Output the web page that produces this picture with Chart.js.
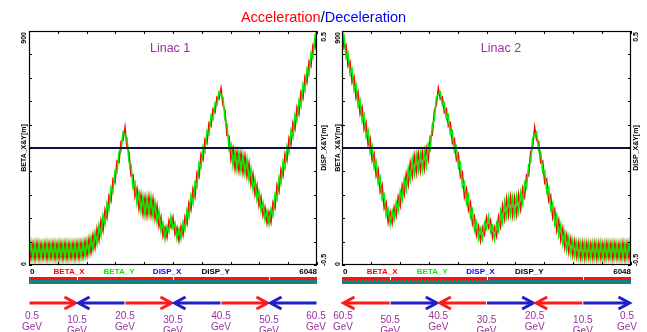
<!DOCTYPE html>
<html><head><meta charset="utf-8">
<script src="https://cdn.jsdelivr.net/npm/chart.js@4/dist/chart.umd.min.js"></script>
<style>
html,body{margin:0;padding:0;background:#fff;width:647px;height:332px;overflow:hidden;position:relative;}
#title{position:absolute;left:0;top:8px;width:647px;text-align:center;font:14.5px "Liberation Sans",Arial,sans-serif;line-height:18px;z-index:2;}
#c1{position:absolute;left:0;top:0;}
#c2{position:absolute;left:330px;top:0;}
</style></head><body>
<div id="title"><span style="color:#ff0000">Acceleration</span><span style="color:#000">/</span><span style="color:#0000ff">Deceleration</span></div>
<canvas id="c1" width="330" height="332" style="width:330px;height:332px"></canvas>
<canvas id="c2" width="317" height="332" style="width:317px;height:332px"></canvas>
<script>
// ---- data (beta functions in m, sampled every 42 m along 6048 m) ----
const BETA_X_L1 = [
85,25,84,22,86,24,83,25,85,23,84,26,86,24,83,25,85,23,86,24,84,26,85,24,86,25,
87,30,92,36,101,48,116,66,140,95,172,132,213,182,267,246,330,316,400,394,475,479,530,452,
435,343,347,263,295,216,271,195,260,191,263,191,255,177,228,148,185,111,145,106,172,145,183,118,144,93,
149,115,186,158,240,212,293,262,355,338,426,405,484,469,546,534,600,587,646,638,680,615,593,498,
496,405,449,370,435,363,430,355,420,341,393,308,351,270,307,227,262,189,223,161,204,165,241,218,
308,282,368,342,428,402,488,462,548,522,607,581,665,641,724,702,783,765,847,834,919];
const BETA_Y_L1 = [
25,88,24,86,25,87,23,85,26,88,24,86,25,87,23,89,24,86,25,88,24,86,25,87,26,88,
27,90,32,96,41,108,56,126,80,155,112,192,157,238,213,298,280,364,356,436,435,511,500,488,
395,387,297,317,235,280,205,265,190,261,193,261,185,243,164,208,131,161,99,150,128,187,141,162,100,139,
101,165,134,212,184,268,237,318,301,392,374,455,436,515,502,576,560,623,614,666,656,645,557,542,
444,465,381,440,365,433,360,425,350,409,327,372,289,330,249,283,208,241,173,209,156,215,189,272,
252,338,312,398,372,458,432,518,492,578,553,635,611,695,672,754,733,815,797,882,871];
const BETA_X_L2 = [
919,834,847,765,783,702,724,641,665,581,607,522,548,462,488,402,428,342,368,282,308,
218,241,165,204,161,223,189,262,227,307,270,351,308,393,341,420,355,430,363,435,370,449,405,496,
498,593,615,680,638,646,587,600,534,546,469,484,405,426,338,355,262,293,212,240,158,186,115,149,
93,144,118,183,145,172,106,145,111,185,148,228,177,255,191,263,191,260,195,271,216,295,263,347,343,435,
452,530,479,475,394,400,316,330,246,267,182,213,132,172,95,140,66,116,48,101,36,92,30,87,
25,86,24,85,26,84,24,86,23,85,25,83,24,86,26,84,23,85,25,83,24,86,22,84,25,85];
const BETA_Y_L2 = [
871,882,797,815,733,754,672,695,611,635,553,578,492,518,432,458,372,398,312,338,252,
272,189,215,156,209,173,241,208,283,249,330,289,372,327,409,350,425,360,433,365,440,381,465,444,
542,557,645,656,666,614,623,560,576,502,515,436,455,374,392,301,318,237,268,184,212,134,165,101,
139,100,162,141,187,128,150,99,161,131,208,164,243,185,261,193,261,190,265,205,280,235,317,297,387,395,
488,500,511,435,436,356,364,280,298,213,238,157,192,112,155,80,126,56,108,41,96,32,90,27,
88,26,87,25,86,24,88,25,86,24,89,23,87,25,86,24,88,26,85,23,87,25,86,24,88,25];
const S_STEP = 42;
const S = BETA_X_L1.map((_, i) => i * S_STEP);
const DISP_S = [0, 6048];
const DISP_X = [0, 0];
const DISP_Y = [0, 0];
const ENERGY_S = [0, 1008, 2016, 3024, 4032, 5040, 6048];
const ENERGY_L1 = ['0.5', '10.5', '20.5', '30.5', '40.5', '50.5', '60.5'];
const ENERGY_L2 = ['60.5', '50.5', '40.5', '30.5', '20.5', '10.5', '0.5'];
const LEGEND = ['BETA_X', 'BETA_Y', 'DISP_X', 'DISP_Y'];
const LEGEND_S = [840, 1890, 2900, 3920];
const X_TICK_LABELS = ['0', '6048'];
const BETA_RANGE = [0, 900];
const DISP_RANGE = [-0.5, 0.5];

const FONT = '"Liberation Sans", Arial, sans-serif';
const COLORS = {BETA_X:'#ff0000', BETA_Y:'#00ee00', DISP_X:'#0000ff', DISP_Y:'#000000'};
const PURPLE = '#993399';

function pts(xs, ys){ return xs.map((x, i) => ({x: x, y: ys[i]})); }

function decor(cfg){
  return { id: 'decor', afterDraw(chart){
    const ctx = chart.ctx, a = chart.chartArea, xs = chart.scales.x, yb = chart.scales.y;
    ctx.save();
    const line = (x1,y1,x2,y2) => { ctx.beginPath(); ctx.moveTo(x1,y1); ctx.lineTo(x2,y2); ctx.stroke(); };
    // frame
    ctx.strokeStyle = '#000'; ctx.lineWidth = 1.2;
    ctx.strokeRect(a.left + 0.5, a.top + 0.5, a.right - a.left - 1, a.bottom - a.top - 1);
    // inside ticks
    ctx.lineWidth = 1;
    for (let k = 0; k <= 10; k++) {
      const y = Math.round(yb.getPixelForValue(BETA_RANGE[0] + k * (BETA_RANGE[1] - BETA_RANGE[0]) / 10)) + 0.5;
      line(a.left, y, a.left + 3, y); line(a.right - 3, y, a.right, y);
      const x = Math.round(xs.getPixelForValue(k * 604.8)) + 0.5;
      line(x, a.top, x, a.top + 3); line(x, a.bottom - 3, x, a.bottom);
    }
    // rotated axis texts
    const rot = (t, x, y, align, color, font) => {
      ctx.save(); ctx.translate(x, y); ctx.rotate(-Math.PI / 2);
      ctx.font = font; ctx.textAlign = align; ctx.textBaseline = 'middle'; ctx.fillStyle = color;
      ctx.fillText(t, 0, 0); ctx.restore();
    };
    const f7 = 'bold 7px ' + FONT;
    const xl = a.left + cfg.labL, xr = a.right + cfg.labR, mid = (a.top + a.bottom) / 2;
    rot(String(BETA_RANGE[1]), xl, a.top + 1, 'right', '#000', f7);
    rot(String(BETA_RANGE[0]), xl, a.bottom + 1, 'left', '#000', f7);
    rot('BETA_X&Y[m]', xl, mid, 'center', '#000', f7);
    rot(String(DISP_RANGE[1]), xr, a.top + 1, 'right', '#000', f7);
    rot(String(DISP_RANGE[0]), xr, a.bottom + 1, 'left', '#000', f7);
    rot('DISP_X&Y[m]', xr, mid, 'center', '#000', f7);
    // x labels and legend row
    ctx.font = 'bold 8px ' + FONT; ctx.textBaseline = 'middle';
    ctx.fillStyle = '#000';
    ctx.textAlign = 'left'; ctx.fillText(X_TICK_LABELS[0], a.left + 1, 272);
    ctx.textAlign = 'right'; ctx.fillText(X_TICK_LABELS[1], a.right, 272);
    ctx.textAlign = 'center';
    LEGEND.forEach((t, i) => { ctx.fillStyle = COLORS[t]; ctx.fillText(t, xs.getPixelForValue(LEGEND_S[i]), 272); });
    // lattice strip
    const w = a.right - a.left;
    ctx.fillStyle = '#ff1010'; ctx.fillRect(a.left, 277, w, 3);
    ctx.fillStyle = '#178080'; ctx.fillRect(a.left, 280, w, 4);
    ctx.fillStyle = '#ff2020';
    S.forEach((s, i) => { if (i % 2 === 1) ctx.fillRect(Math.round(xs.getPixelForValue(s)), 280, 1, 2); });
    ctx.fillStyle = '#ffffff';
    [1, 3, 5].forEach(k => ctx.fillRect(Math.round(xs.getPixelForValue(ENERGY_S[k])), 277, 1, 3));
    // arrows
    const ay = 303;
    ctx.lineWidth = 3; ctx.lineCap = 'butt'; ctx.lineJoin = 'miter';
    for (let k = 0; k < 6; k++) {
      const x0 = xs.getPixelForValue(ENERGY_S[k]), x1 = xs.getPixelForValue(ENERGY_S[k + 1]);
      const isRed = k % 2 === 0;
      const right = cfg.reverse ? !isRed : isRed;
      ctx.strokeStyle = isRed ? '#ff1a1a' : '#1f1fc8';
      const tip = right ? x1 - 1.5 : x0 + 1.5;
      const tail = right ? x0 + 0.5 : x1 - 0.5;
      const d = right ? -1 : 1;
      line(tail, ay, tip + d * 2, ay);
      ctx.beginPath(); ctx.moveTo(tip + d * 11, ay - 6); ctx.lineTo(tip, ay); ctx.lineTo(tip + d * 11, ay + 6); ctx.stroke();
    }
    // energy labels
    ctx.font = '10px ' + FONT; ctx.fillStyle = PURPLE; ctx.textAlign = 'center';
    const EN = cfg.energies;
    for (let k = 0; k < 7; k++) {
      let x = xs.getPixelForValue(ENERGY_S[k]);
      if (k === 0) x += cfg.endL; if (k === 6) x += cfg.endR;
      const low = k % 2 === 1;
      ctx.fillText(EN[k], x, low ? 320 : 316);
      ctx.fillText('GeV', x, low ? 331 : 327);
    }
    // panel title
    ctx.font = '12.5px ' + FONT; ctx.fillStyle = PURPLE; ctx.textAlign = 'center';
    ctx.fillText(cfg.name, a.left + cfg.nameX * w, 49);
    ctx.restore();
  }};
}

function makePanel(id, cfg){
  return new Chart(document.getElementById(id), {
    type: 'line',
    data: { datasets: [
      {label: 'DISP_Y', data: pts(DISP_S, cfg.dispY), yAxisID: 'y2', borderColor: COLORS.DISP_Y, borderWidth: 1, order: 0},
      {label: 'DISP_X', data: pts(DISP_S, cfg.dispX), yAxisID: 'y2', borderColor: '#1a1a90', borderWidth: 2, order: 1},
      {label: 'BETA_Y', data: pts(S, cfg.betaY), yAxisID: 'y', borderColor: COLORS.BETA_Y, borderWidth: 1.5, order: 2},
      {label: 'BETA_X', data: pts(S, cfg.betaX), yAxisID: 'y', borderColor: COLORS.BETA_X, borderWidth: 1.5, order: 3}
    ]},
    options: {
      responsive: false, animation: false, events: [],
      layout: {padding: {left: cfg.padL, right: cfg.padR, top: 31, bottom: 67}},
      plugins: {legend: {display: false}, tooltip: {enabled: false}, title: {display: false}},
      elements: {point: {radius: 0}, line: {tension: 0, fill: false}},
      scales: {
        x: {type: 'linear', min: 0, max: 6048, display: false},
        y: {min: BETA_RANGE[0], max: BETA_RANGE[1], display: false},
        y2: {min: DISP_RANGE[0], max: DISP_RANGE[1], display: false, position: 'right'}
      }
    },
    plugins: [decor(cfg)]
  });
}

makePanel('c1', {betaX: BETA_X_L1, betaY: BETA_Y_L1, dispX: DISP_X, dispY: DISP_Y,
  padL: 29, padR: 13, labL: -5, labR: 7, energies: ENERGY_L1, reverse: false,
  endL: 3, endR: -1, name: 'Linac 1', nameX: 0.49});
makePanel('c2', {betaX: BETA_X_L2, betaY: BETA_Y_L2, dispX: DISP_X, dispY: DISP_Y,
  padL: 12, padR: 16, labL: -3.5, labR: 5.5, energies: ENERGY_L2, reverse: true,
  endL: 1, endR: -4, name: 'Linac 2', nameX: 0.55});
</script>
</body></html>
